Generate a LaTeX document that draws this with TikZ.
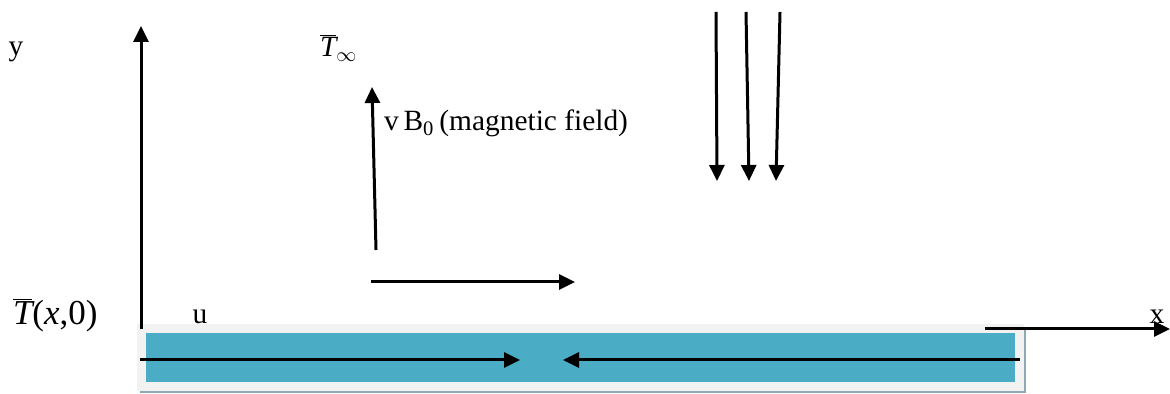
\documentclass[tikz,border=0pt]{standalone}
\usepackage{fontspec}
\setmainfont{Liberation Serif}
\usetikzlibrary{arrows.meta}
\definecolor{cyanc}{HTML}{4BACC6}
\definecolor{platebg}{HTML}{F2F2F2}
\definecolor{shadowc}{HTML}{8EA9B3}
\begin{document}
\begin{tikzpicture}[x=0.5pt,y=-0.5pt, font=\fontsize{14.7}{17}\selectfont,
  arr/.style={line width=1.5pt,-{Triangle[length=8pt,width=7.5pt]}},
  lbl/.style={inner sep=0pt,outer sep=0pt}]
\useasboundingbox (0,0) rectangle (1170,394);
% plate
\fill[shadowc] (140,327) rectangle (1026,393);
\fill[platebg] (137,324) rectangle (1024,391);
\fill[cyanc] (146,333) rectangle (1015,382);
% coordinates
\coordinate (ya) at (141,329); \coordinate (yb) at (141,26);
\coordinate (ba) at (376,250); \coordinate (bb) at (372,87);
\coordinate (ha) at (371,282); \coordinate (hb) at (575,282);
\coordinate (d1a) at (716,12); \coordinate (d1b) at (717,181);
\coordinate (d2a) at (746,12); \coordinate (d2b) at (749,181);
\coordinate (d3a) at (780,12); \coordinate (d3b) at (776,181);
\coordinate (pla) at (140,360); \coordinate (plb) at (520,360);
\coordinate (pra) at (1020,360); \coordinate (prb) at (563,360);
\coordinate (xa) at (985,329); \coordinate (xb) at (1170,329);
% arrows
\draw[arr] (ya) -- (yb);
\draw[arr] (ba) -- (bb);
\draw[arr] (ha) -- (hb);
\draw[arr] (d1a) -- (d1b);
\draw[arr] (d2a) -- (d2b);
\draw[arr] (d3a) -- (d3b);
\draw[arr] (pla) -- (plb);
\draw[arr] (pra) -- (prb);
\draw[arr] (xa) -- (xb);
% labels
\node[lbl, anchor=base] (ylab) at (16,56) {y};
\node[lbl, anchor=base west] (tinf) at (320,57) {$\overline{\textit{T}}_{\infty}$};
\node[lbl, anchor=base west] (blab) at (384,131) {v\,B\textsubscript{0}\,(magnetic field)};
\node[lbl, anchor=base west, font=\fontsize{17.5}{20}\selectfont] (tlab) at (13,325) {$\overline{\textit{T}}$(\textit{x},0)};
\node[lbl, anchor=base] (ulab) at (200,324) {u};
\node[lbl, anchor=base] (xlab) at (1157,324) {x};
\end{tikzpicture}
\end{document}
